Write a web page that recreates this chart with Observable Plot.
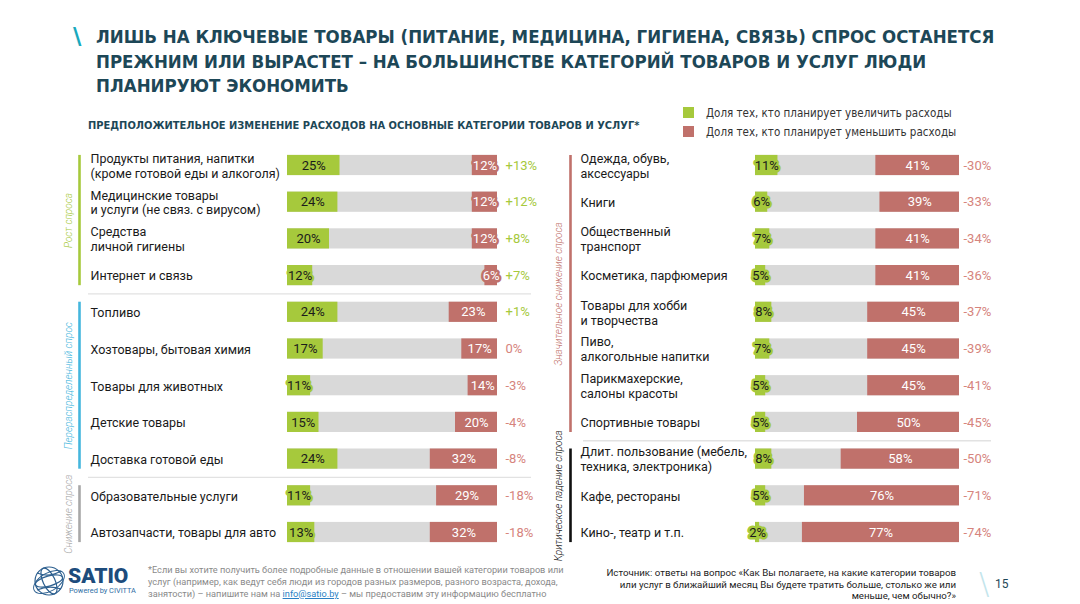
<!DOCTYPE html>
<html>
<head>
<meta charset="utf-8">
<script src="https://cdn.jsdelivr.net/npm/d3@7"></script>
<script src="https://cdn.jsdelivr.net/npm/@observablehq/plot@0.6"></script>
<style>
  html, body { margin: 0; padding: 0; background: #fff; }
  body { width: 1080px; height: 604px; position: relative; overflow: hidden; font-family: Roboto, "Open Sans", sans-serif; }
  .abs { position: absolute; white-space: nowrap; }
  .cond { font-family: "DejaVu Sans Condensed", "DejaVu Sans", sans-serif; font-stretch: condensed; }
  #slash { left: 73px; top: 23px; font-size: 23px; color: #19a9bd; font-family: "DejaVu Sans", sans-serif; font-weight: bold; }
  #title { left: 96px; top: 25px; font-size: 18.5px; line-height: 24.5px; font-weight: bold; color: #1d4757; }
  #subtitle { left: 88px; top: 119px; font-size: 11px; line-height: 14px; font-weight: bold; color: #1d4757; }
  .legend { left: 683px; font-size: 11.5px; line-height: 14px; color: #333; }
  .legend i { display: inline-block; width: 11px; height: 11px; vertical-align: -1px; margin-right: 12px; }
  #foot { left: 148px; top: 564px; font-size: 9.2px; line-height: 12px; color: #8a8a8a; }
  #foot a { color: #2a7fc4; text-decoration: underline; }
  #source { right: 124px; top: 567px; font-size: 9.7px; line-height: 11.7px; color: #222; text-align: right; }
  #page { left: 995px; top: 577px; font-size: 12px; color: #1d4757; }
  #pslash { left: 979px; top: 565px; font-size: 31px; color: #c3e5ec; font-weight: 200; font-family: "DejaVu Sans", sans-serif; }
  .panel { position: absolute; top: 140px; }
</style>
</head>
<body>
<div id="slash" class="abs">\</div>
<div id="title" class="abs cond">ЛИШЬ НА КЛЮЧЕВЫЕ ТОВАРЫ (ПИТАНИЕ, МЕДИЦИНА, ГИГИЕНА, СВЯЗЬ) СПРОС ОСТАНЕТСЯ<br>ПРЕЖНИМ ИЛИ ВЫРАСТЕТ – НА БОЛЬШИНСТВЕ КАТЕГОРИЙ ТОВАРОВ И УСЛУГ ЛЮДИ<br>ПЛАНИРУЮТ ЭКОНОМИТЬ</div>
<div id="subtitle" class="abs cond">ПРЕДПОЛОЖИТЕЛЬНОЕ ИЗМЕНЕНИЕ РАСХОДОВ НА ОСНОВНЫЕ КАТЕГОРИИ ТОВАРОВ И УСЛУГ*</div>
<div class="abs legend cond" style="top:106px"><i style="background:#a6c93c"></i>Доля тех, кто планирует увеличить расходы</div>
<div class="abs legend cond" style="top:125px"><i style="background:#c0716b"></i>Доля тех, кто планирует уменьшить расходы</div>

<div id="left" class="panel" style="left:0px"></div>
<div id="right" class="panel" style="left:540px"></div>

<svg class="abs" style="left:28px;top:561px" width="112" height="40" viewBox="0 0 112 40">
  <g fill="none" stroke="#2c5f8f" stroke-width="1.2">
    <circle cx="21" cy="20" r="14"/>
    <ellipse cx="21" cy="20" rx="6" ry="14" transform="rotate(-25 21 20)"/>
    <ellipse cx="21" cy="20" rx="14" ry="5" transform="rotate(-15 21 20)"/>
    <path d="M9 12 Q21 17 33 10"/>
    <path d="M9 29 Q21 24 33 28"/>
    <ellipse cx="21" cy="21" rx="17" ry="9" transform="rotate(-30 21 21)" stroke-width="0.9"/>
  </g>
  <text x="40" y="22" font-family="Roboto, sans-serif" font-weight="900" font-size="21" fill="#1d4c7c">SATIO</text>
  <text x="41" y="32" font-family="Roboto, sans-serif" font-size="7.4" fill="#2f6ea5">Powered by CIVITTA</text>
</svg>
<div id="foot" class="abs">*Если вы хотите получить более подробные данные в отношении вашей категории товаров или<br>услуг (например, как ведут себя люди из городов разных размеров, разного возраста, дохода,<br>занятости) – напишите нам на <a>info@satio.by</a> – мы предоставим эту информацию бесплатно</div>
<div id="source" class="abs">Источник: ответы на вопрос «Как Вы полагаете, на какие категории товаров<br>или услуг в ближайший месяц Вы будете тратить больше, столько же или<br>меньше, чем обычно?»</div>
<div id="pslash" class="abs">\</div>
<div id="page" class="abs">15</div>

<script>
// ---- Data: left panel ----
const leftCategories = [
  "Продукты питания, напитки\n(кроме готовой еды и алкоголя)",
  "Медицинские товары\nи услуги (не связ. с вирусом)",
  "Средства\nличной гигиены",
  "Интернет и связь",
  "Топливо",
  "Хозтовары, бытовая химия",
  "Товары для животных",
  "Детские товары",
  "Доставка готовой еды",
  "Образовательные услуги",
  "Автозапчасти, товары для авто"
];
const leftIncrease = [25, 24, 20, 12, 24, 17, 11, 15, 24, 11, 13];
const leftDecrease = [12, 12, 12, 6, 23, 17, 14, 20, 32, 29, 32];
const leftNet = [13, 12, 8, 7, 1, 0, -3, -4, -8, -18, -18];
const leftGroupNames = ["Рост спроса", "Перераспределенный спрос", "Снижение спроса"];
const leftGroupRows = [[0, 3], [4, 8], [9, 10]];
const leftSeparatorsAfter = [3, 8];

// ---- Data: right panel ----
const rightCategories = [
  "Одежда, обувь,\nаксессуары",
  "Книги",
  "Общественный\nтранспорт",
  "Косметика, парфюмерия",
  "Товары для хобби\nи творчества",
  "Пиво,\nалкогольные напитки",
  "Парикмахерские,\nсалоны красоты",
  "Спортивные товары",
  "Длит. пользование (мебель,\nтехника, электроника)",
  "Кафе, рестораны",
  "Кино-, театр и т.п."
];
const rightIncrease = [11, 6, 7, 5, 8, 7, 5, 5, 8, 5, 2];
const rightDecrease = [41, 39, 41, 41, 45, 45, 45, 50, 58, 76, 77];
const rightNet = [-30, -33, -34, -36, -37, -39, -41, -45, -50, -71, -74];
const rightGroupNames = ["Значительное снижение спроса", "Критическое падение спроса"];
const rightGroupRows = [[0, 7], [8, 10]];
const rightSeparatorsAfter = [7];

// ---- Styles ----
const GREEN = "#a6c93c", RED = "#c0716b", TRACK = "#d9d9d9";
const NET_UP = "#a6c93c", NET_DOWN = "#d6847d";
const leftGroupColors = [GREEN, "#45b6dd", "#a8a8a8"];
const rightGroupColors = [RED, "#111111"];

const H = 420, MT = 6.65, MB = 9.65;

function panel(o) {
  const rows = o.categories.map((cat, i) => ({cat, up: o.increase[i], down: o.decrease[i], net: o.net[i]}));
  const step = (H - MT - MB) / rows.length;
  const marks = [
    Plot.ruleY(o.separators.map(i => o.categories[i]), {y: d => d, dy: step / 2, stroke: "#e2e2e2", strokeWidth: 1.3}),
    Plot.barX(rows, {y: "cat", x1: 0, x2: 100, fill: TRACK}),
    Plot.barX(rows, {y: "cat", x1: 0, x2: "up", fill: GREEN}),
    Plot.barX(rows, {y: "cat", x1: d => 100 - d.down, x2: 100, fill: RED}),
    Plot.text(rows, {y: "cat", x: d => d.up / 2, text: d => `${d.up}%`, fill: "#1b1b1b", stroke: GREEN, strokeWidth: 5, fontSize: 13}),
    Plot.text(rows, {y: "cat", x: d => 100 - d.down / 2, text: d => `${d.down}%`, fill: "#ffffff", stroke: RED, strokeWidth: 5, fontSize: 13}),
    Plot.text(rows, {y: "cat", x: 100, dx: o.netDx, textAnchor: "start", fontSize: 13,
      text: d => `${d.net > 0 ? "+" : ""}${d.net}%`, fill: d => d.net > 0 ? NET_UP : NET_DOWN}),
    Plot.text(rows, {y: "cat", text: "cat", frameAnchor: "left", dx: o.labelDx, textAnchor: "start",
      fontSize: 12.5, lineHeight: 1.2, fill: "#1a1a1a"})
  ];
  o.groupRows.forEach(([from, to], g) => {
    const color = o.groupColors[g];
    marks.push(Plot.ruleX([g], {x: 0, dx: o.ruleDx, y1: () => o.categories[from], y2: () => o.categories[to],
      stroke: color, strokeWidth: 2.6}));
    const mid = (from + to) / 2, base = Math.floor(mid);
    marks.push(Plot.text([g], {x: 0, dx: o.groupLabelDx, y: () => o.categories[base], dy: (mid - base) * step,
      text: () => o.groupNames[g], rotate: -90, fill: color, fontStyle: "italic", fontSize: 10, fontWeight: 300}));
  });
  return Plot.plot({
    width: o.width, height: H,
    marginLeft: o.marginLeft, marginRight: o.marginRight, marginTop: MT, marginBottom: MB,
    x: {domain: [0, 100], range: o.xRange, axis: null},
    y: {domain: o.categories, paddingInner: 0.45, paddingOuter: 0.225, round: false, axis: null},
    color: {type: "identity"},
    style: {background: "transparent", overflow: "visible", fontFamily: "Roboto, 'Open Sans', sans-serif"},
    marks
  });
}

document.getElementById("left").append(panel({
  categories: leftCategories, increase: leftIncrease, decrease: leftDecrease, net: leftNet,
  groupNames: leftGroupNames, groupRows: leftGroupRows, groupColors: leftGroupColors, separators: leftSeparatorsAfter,
  width: 560, marginLeft: 88, marginRight: 29, xRange: [287, 497],
  labelDx: 2, netDx: 8, ruleDx: -208, groupLabelDx: -219
}));
document.getElementById("right").append(panel({
  categories: rightCategories, increase: rightIncrease, decrease: rightDecrease, net: rightNet,
  groupNames: rightGroupNames, groupRows: rightGroupRows, groupColors: rightGroupColors, separators: rightSeparatorsAfter,
  width: 540, marginLeft: 43, marginRight: 89, xRange: [215, 419],
  labelDx: -3, netDx: 4, ruleDx: -185, groupLabelDx: -197
}));
</script>
</body>
</html>
